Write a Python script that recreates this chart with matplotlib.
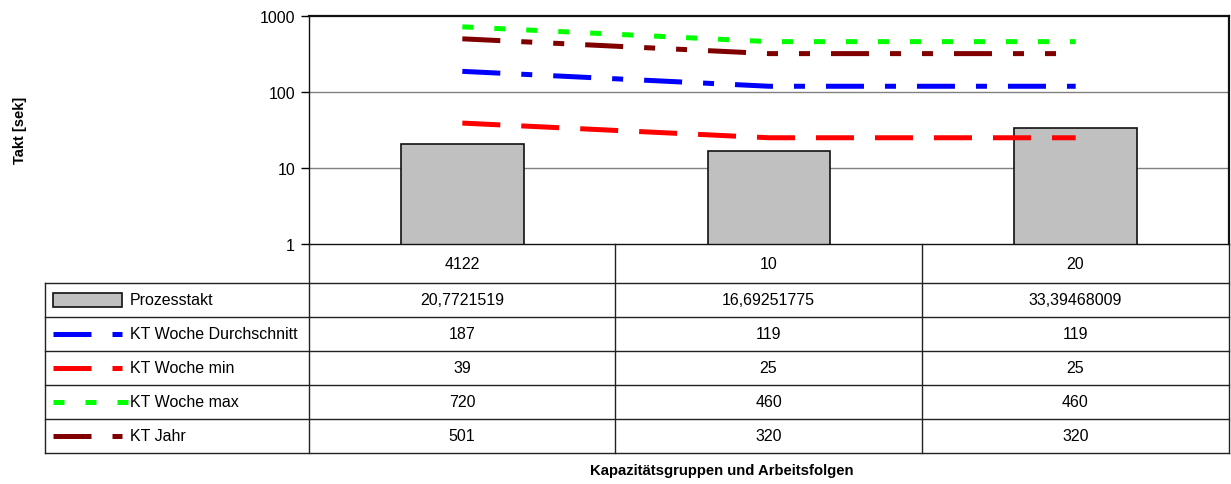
import matplotlib.pyplot as plt
import numpy as np

plt.rcParams['font.family'] = ['Liberation Sans', 'DejaVu Sans']
plt.rcParams['lines.scale_dashes'] = False

categories = ['4122', '10', '20']
prozesstakt = [20.7721519, 16.69251775, 33.39468009]
prozesstakt_labels = ['20,7721519', '16,69251775', '33,39468009']
kt_avg = [187, 119, 119]
kt_min = [39, 25, 25]
kt_max = [720, 460, 460]
kt_jahr = [501, 320, 320]

W, H = 1231, 485
fig = plt.figure(figsize=(W / 100, H / 100), dpi=100)

# plot area in pixels
px_l, px_r, px_t, px_b = 309, 1229, 17, 245
ax = fig.add_axes([px_l / W, 1 - px_b / H, (px_r - px_l) / W, (px_b - px_t) / H])

x = np.arange(len(categories))
ax.bar(x, prozesstakt, width=0.4, color='#c0c0c0', edgecolor='#111111', linewidth=1.2, zorder=2)

px = 0.72  # points per pixel at 100 dpi
series = [
    ('KT Woche Durchschnitt', kt_avg, '#0000ff', (0, (38 * px, 21 * px, 11 * px, 21 * px))),
    ('KT Woche min', kt_min, '#ff0000', (0, (38 * px, 21 * px))),
    ('KT Woche max', kt_max, '#00ff00', (0, (11 * px, 21 * px))),
    ('KT Jahr', kt_jahr, '#800000', (0, (38 * px, 21 * px, 11 * px, 21 * px, 11 * px, 21 * px))),
]
for name, vals, col, ls in series:
    ax.plot(x, vals, color=col, linestyle=ls, linewidth=5 * px, zorder=3, solid_capstyle='butt', dash_capstyle='butt')

ax.set_yscale('log')
ax.set_ylim(1, 1000)
ax.set_xlim(-0.5, 2.5)
ax.set_yticks([1, 10, 100, 1000])
ax.set_yticklabels(['1', '10', '100', '1000'], fontsize=11.5)
ax.minorticks_off()
ax.set_xticks([])
ax.tick_params(axis='y', direction='out', length=6, width=1, pad=4)
for yv in [10, 100]:
    ax.axhline(yv, color='#808080', linewidth=1, zorder=1)
ax.spines['left'].set_linewidth(1)
ax.spines['bottom'].set_linewidth(1)
ax.spines['top'].set_linewidth(1.6)
ax.spines['right'].set_linewidth(1.6)
for s in ax.spines.values():
    s.set_color('#111111')

# data table below
tl, tr, tt, tb = 45, 1229, 245, 454
tax = fig.add_axes([tl / W, 1 - tb / H, (tr - tl) / W, (tb - tt) / H])
tax.set_xlim(tl, tr)
tax.set_ylim(tb, tt)
tax.axis('off')

col_edges = [309, 615, 922, 1229]
row_edges = [245, 284, 318, 352, 386, 420, 454]
lc = '#222222'
for xe in col_edges:
    tax.plot([xe, xe], [row_edges[0], row_edges[-1]], color=lc, linewidth=1, clip_on=False)
tax.plot([tl, tl], [row_edges[1], row_edges[-1]], color=lc, linewidth=1, clip_on=False)
for ye in row_edges[1:]:
    tax.plot([tl, tr], [ye, ye], color=lc, linewidth=1, clip_on=False)

centers = [(col_edges[i] + col_edges[i + 1]) / 2 for i in range(3)]
fs = 11.5
for cx, lab in zip(centers, categories):
    tax.text(cx, (row_edges[0] + row_edges[1]) / 2, lab, ha='center', va='center', fontsize=fs)

rows = [('Prozesstakt', prozesstakt_labels)] + [(s[0], [str(v) for v in s[1]]) for s in series]
for i, (name, vals) in enumerate(rows):
    yc = (row_edges[i + 1] + row_edges[i + 2]) / 2
    tax.text(130, yc, name, ha='left', va='center', fontsize=fs)
    for cx, v in zip(centers, vals):
        tax.text(cx, yc, v, ha='center', va='center', fontsize=fs)
    if i == 0:
        tax.add_patch(plt.Rectangle((53, yc - 7), 69, 14, facecolor='#c0c0c0', edgecolor='#111111', linewidth=1.2))
    else:
        _, _, col, ls = series[i - 1]
        end = 128 if name == 'KT Woche max' else 122
        tax.plot([53, end], [yc, yc], color=col, linestyle=ls, linewidth=5 * px, solid_capstyle='butt', dash_capstyle='butt')

fig.text(20 / W, 1 - 130 / H, 'Takt [sek]', rotation=90, ha='center', va='center', fontsize=10.5, fontweight='bold')
fig.text(722 / W, 1 - 471 / H, 'Kapazitätsgruppen und Arbeitsfolgen', ha='center', va='center', fontsize=10.7, fontweight='bold')

fig.savefig('out.png', dpi=100)
